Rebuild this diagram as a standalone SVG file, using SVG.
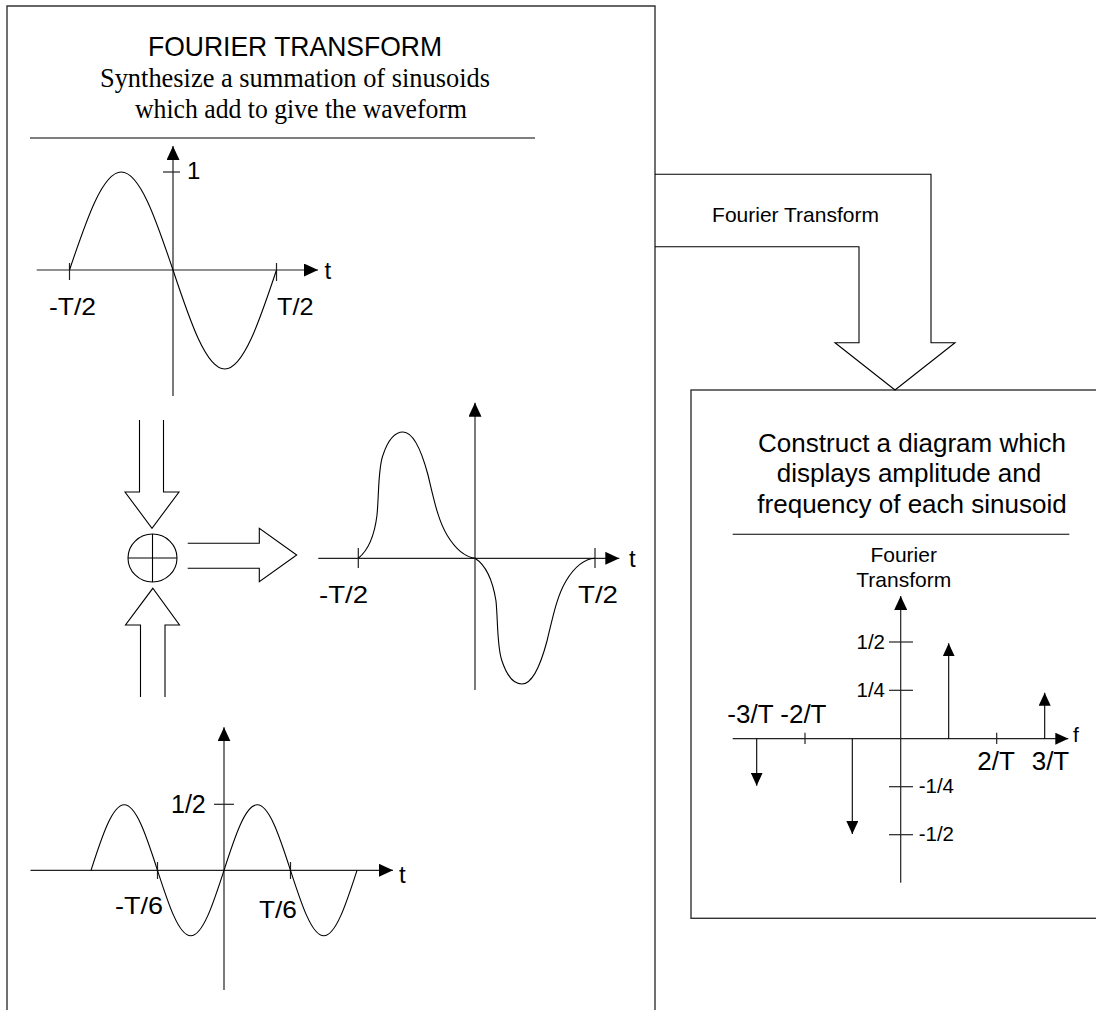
<svg xmlns="http://www.w3.org/2000/svg" width="1096" height="1010" viewBox="0 0 1096 1010">
<style>
  .ln { fill: none; stroke: #000; stroke-width: 1.1; }
  .ax { fill: none; stroke: #222; stroke-width: 1.2; }
  .bx { fill: none; stroke: #333; stroke-width: 1.4; }
  .sans { font-family: "Liberation Sans", Arial, sans-serif; fill: #000; }
  .serif { font-family: "Liberation Serif", "Times New Roman", serif; fill: #000; }
  .lbl { font-family: "Liberation Sans", Arial, sans-serif; font-size: 24px; fill: #000; }
</style>
<defs>
  <marker id="ah" viewBox="0 0 14 13" refX="14" refY="6.5" markerWidth="14" markerHeight="13" markerUnits="userSpaceOnUse" orient="auto">
    <path d="M0,0 L14,6.5 L0,13 z" fill="#000"/>
  </marker>
  <marker id="ahs" viewBox="0 0 13 12" refX="13" refY="6" markerWidth="13" markerHeight="12" markerUnits="userSpaceOnUse" orient="auto">
    <path d="M0,0 L13,6 L0,12 z" fill="#000"/>
  </marker>
</defs>
<rect width="1096" height="1010" fill="#fff"/>

<g id="synthesis-panel">
  <path class="bx" d="M7,1012 V6 H655 V1012"/>
  <text class="sans" x="148" y="56" font-size="27.5" textLength="294" lengthAdjust="spacingAndGlyphs">FOURIER TRANSFORM</text>
  <text class="serif" x="100" y="87" font-size="28" textLength="390" lengthAdjust="spacingAndGlyphs">Synthesize a summation of sinusoids</text>
  <text class="serif" x="135" y="118" font-size="28" textLength="332" lengthAdjust="spacingAndGlyphs">which add to give the waveform</text>
  <line class="ln" x1="30" y1="138" x2="535" y2="138"/>
</g>

<g id="plot-fundamental">
  <line class="ax" x1="173" y1="396" x2="173" y2="146" marker-end="url(#ah)"/>
  <line class="ax" x1="36.7" y1="270" x2="318" y2="270" marker-end="url(#ah)"/>
  <line class="ax" x1="163" y1="172" x2="180" y2="172"/>
  <line class="ax" x1="69.5" y1="263" x2="69.5" y2="280"/>
  <line class="ax" x1="276.5" y1="263" x2="276.5" y2="281"/>
  <path class="ln" d="M69.5,270 C86.4,219.8 102.6,172 121.25,172 C139.9,172 156.1,219.8 173,270 C189.9,320.7 206.1,369 224.75,369 C243.4,369 259.6,320.7 276.5,270"/>
  <text class="lbl" x="187" y="179.3">1</text>
  <text class="lbl" x="324.5" y="279.3">t</text>
  <text class="lbl" x="49" y="315" textLength="47" lengthAdjust="spacingAndGlyphs">-T/2</text>
  <text class="lbl" x="277" y="315" textLength="36.5" lengthAdjust="spacingAndGlyphs">T/2</text>
</g>

<g id="summer">
  <ellipse class="ln" cx="152.5" cy="558" rx="24.5" ry="24"/>
  <line class="ln" x1="152.5" y1="534" x2="152.5" y2="582"/>
  <line class="ln" x1="128" y1="558" x2="177" y2="558"/>
</g>

<g id="plot-sum">
  <line class="ax" x1="475" y1="690" x2="475" y2="402.7" marker-end="url(#ah)"/>
  <line class="ax" x1="318.3" y1="558.3" x2="619.3" y2="558.3" marker-end="url(#ah)"/>
  <line class="ax" x1="358.3" y1="548" x2="358.3" y2="568"/>
  <line class="ax" x1="595" y1="548" x2="595" y2="568"/>
  <path class="ln" d="M358.3,558.3 C366,552 374,540 377,515 C379,495 378,468 383,455 C388,440 395,432 403,432 C412,432 420,445 428,475 C434,500 438,520 447,535 C456,550 466,557 475,558.3 C484,564 492,576 496,601 C498,621 497,648 502,661 C507,676 514,684 522,684 C531,684 539,671 547,641 C553,616 557,596 566,581 C575,566 585,559 595,558.3"/>
  <text class="lbl" x="629" y="566.7">t</text>
  <text class="lbl" x="319" y="603.3" textLength="49" lengthAdjust="spacingAndGlyphs">-T/2</text>
  <text class="lbl" x="578" y="603.3" textLength="40" lengthAdjust="spacingAndGlyphs">T/2</text>
</g>

<g id="plot-third-harmonic">
  <line class="ax" x1="224" y1="990" x2="224" y2="727.3" marker-end="url(#ah)"/>
  <line class="ax" x1="30.5" y1="870.3" x2="393" y2="870.3" marker-end="url(#ah)"/>
  <line class="ax" x1="214" y1="804.3" x2="234" y2="804.3"/>
  <line class="ax" x1="157.5" y1="862" x2="157.5" y2="879"/>
  <line class="ax" x1="290.5" y1="862" x2="290.5" y2="879"/>
  <path class="ln" d="M91,870.3 C101.84,836.74 112.27,804.8 124.25,804.8 C136.23,804.8 146.66,836.74 157.5,870.3 C168.34,903.86 178.77,935.8 190.75,935.8 C202.73,935.8 213.16,903.86 224,870.3 C234.84,836.74 245.27,804.8 257.25,804.8 C269.23,804.8 279.66,836.74 290.5,870.3 C301.34,903.86 311.77,935.8 323.75,935.8 C335.73,935.8 346.16,903.86 357,870.3"/>
  <text class="sans" x="171" y="812.7" font-size="25">1/2</text>
  <text class="lbl" x="399" y="882.7">t</text>
  <text class="lbl" x="115" y="914" textLength="48" lengthAdjust="spacingAndGlyphs">-T/6</text>
  <text class="lbl" x="259" y="917.7" textLength="38" lengthAdjust="spacingAndGlyphs">T/6</text>
</g>

<g id="spectrum-panel">
  <rect class="bx" x="691" y="390" width="420" height="528.3"/>
  <text class="sans" x="912" y="451.7" font-size="26" text-anchor="middle">Construct a diagram which</text>
  <text class="sans" x="909" y="482.3" font-size="26" text-anchor="middle">displays amplitude and</text>
  <text class="sans" x="912" y="513.3" font-size="26" text-anchor="middle">frequency of each sinusoid</text>
  <line class="ln" x1="732.7" y1="534.3" x2="1069.3" y2="534.3"/>
  <text class="sans" x="903.7" y="561.7" font-size="21" text-anchor="middle">Fourier</text>
  <text class="sans" x="903.7" y="586.7" font-size="21" text-anchor="middle">Transform</text>
</g>

<g id="spectrum-plot">
  <line class="ax" x1="900.7" y1="882.7" x2="900.7" y2="596" marker-end="url(#ah)"/>
  <line class="ax" x1="732.7" y1="738.7" x2="1068.3" y2="738.7" marker-end="url(#ahs)"/>
  <line class="ax" x1="889" y1="642" x2="913" y2="642"/>
  <line class="ax" x1="889" y1="690.3" x2="913" y2="690.3"/>
  <line class="ax" x1="889" y1="786.7" x2="913" y2="786.7"/>
  <line class="ax" x1="889" y1="834.7" x2="913" y2="834.7"/>
  <line class="ax" x1="805" y1="732.7" x2="805" y2="744"/>
  <line class="ax" x1="996.7" y1="732.7" x2="996.7" y2="744"/>
  <line class="ln" x1="756.7" y1="738.7" x2="756.7" y2="785.7" marker-end="url(#ahs)"/>
  <line class="ln" x1="852.3" y1="738.7" x2="852.3" y2="834" marker-end="url(#ahs)"/>
  <line class="ln" x1="948.7" y1="738.7" x2="948.7" y2="643.3" marker-end="url(#ahs)"/>
  <line class="ln" x1="1044.7" y1="738.7" x2="1044.7" y2="692.7" marker-end="url(#ahs)"/>
  <text class="sans" x="885" y="649.3" font-size="20.5" text-anchor="end">1/2</text>
  <text class="sans" x="885" y="697.3" font-size="20.5" text-anchor="end">1/4</text>
  <text class="sans" x="918.7" y="793.3" font-size="20.5">-1/4</text>
  <text class="sans" x="918.7" y="841" font-size="20.5">-1/2</text>
  <text class="sans" x="727.3" y="722.7" font-size="26">-3/T -2/T</text>
  <text class="sans" x="977.3" y="770" font-size="26">2/T</text>
  <text class="sans" x="1031.7" y="770" font-size="26">3/T</text>
  <text class="sans" x="1073" y="741.7" font-size="21">f</text>
</g>

<g id="connectors">
  <path class="ln" d="M139.5,420 V492 H125 L152,528.3 L179,492 H163.5 V420"/>
  <path class="ln" d="M140.5,697 V625 H125.5 L152.8,588.3 L179.5,625 H165 V697"/>
  <path class="ln" d="M187.7,543.3 H259.3 V528.3 L296.7,555 L259.3,581.7 V568.3 H187.7"/>
  <path class="ln" d="M655,174.3 H931 V342.7 H955 L895,390 L835,342.7 H859 V246.7 H655"/>
  <text class="sans" x="795.5" y="221.7" font-size="21" text-anchor="middle">Fourier Transform</text>
</g>
</svg>
